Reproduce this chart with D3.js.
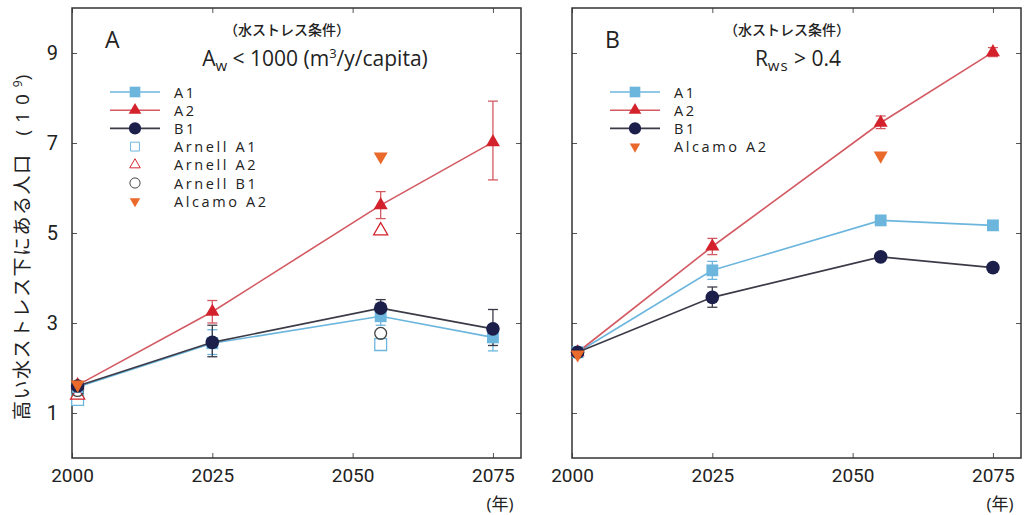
<!DOCTYPE html>
<html>
<head>
<meta charset="utf-8">
<script src="https://cdn.jsdelivr.net/npm/d3@7"></script>
<style>
  body { margin: 0; background: #fff; }
  svg text { font-family: "Open Sans", "Noto Sans", "Noto Sans CJK JP", sans-serif; fill: #222; }
  .tick text { font-family: "Liberation Sans Narrow", "Roboto", sans-serif; font-size: 19px; }
</style>
</head>
<body>
<div id="chart"></div>
<script>
// ── data ──────────────────────────────────────────────────────────
const years = [2001, 2025, 2055, 2075]
const xTicks = [2000, 2025, 2050, 2075]
const yTicks = [1, 3, 5, 7, 9]

// panel A : Aw < 1000
const aA1 = [1.58, 2.55, 3.15, 2.68]
const aA1Lo = [null, 2.3, 2.95, 2.38]
const aA1Hi = [null, 2.85, 3.4, 2.95]
const aA2 = [1.62, 3.25, 5.62, 7.02]
const aA2Lo = [null, 3.0, 5.32, 6.18]
const aA2Hi = [null, 3.5, 5.92, 7.93]
const aB1 = [1.6, 2.57, 3.33, 2.87]
const aB1Lo = [null, 2.25, 3.1, 2.5]
const aB1Hi = [null, 2.95, 3.52, 3.3]
const refYears = [2001, 2055]
const arnellA1 = [1.3, 2.52]
const arnellA2 = [1.4, 5.05]
const arnellB1 = [1.5, 2.77]
const alcamoA = [1.63, 6.7]

// panel B : Rws > 0.4
const bA1 = [2.35, 4.17, 5.28, 5.17]
const bA1Lo = [null, 3.97, null, null]
const bA1Hi = [null, 4.37, null, null]
const bA2 = [2.35, 4.7, 7.45, 9.02]
const bA2Lo = [null, 4.52, 7.32, 8.92]
const bA2Hi = [null, 4.88, 7.6, 9.12]
const bB1 = [2.35, 3.57, 4.47, 4.23]
const bB1Lo = [null, 3.35, 4.4, 4.14]
const bB1Hi = [null, 3.8, 4.55, 4.32]
const alcamoB = [2.3, 6.72]

const C = {
  A1: '#6cb6de', A2: '#d3222b', A2line: '#d35a63', B1: '#1d1f4b', B1line: '#3b3b48',
  alcamo: '#ea6a2b', B1open: '#444'
}

const W = 449, H = 450, TOP = 8
const svg = d3.select('#chart').append('svg').attr('width', 1024).attr('height', 515)

const x = d3.scaleLinear().domain([2000, 2080]).range([0, W])
const y = d3.scaleLinear().domain([0, 10]).range([H, 0])

const sym = (type, size) => d3.symbol().type(type).size(size)()
const SQ = sym(d3.symbolSquare, 140), TRI = sym(d3.symbolTriangle, 85), CIR = sym(d3.symbolCircle, 145)

function series(g, vals, lo, hi, lineColor) {
  const pts = years.map((yr, i) => ({ yr, v: vals[i], lo: lo[i], hi: hi[i] }))
  g.append('path').datum(pts)
    .attr('d', d3.line().x(d => x(d.yr)).y(d => y(d.v)))
    .attr('fill', 'none').attr('stroke', lineColor).attr('stroke-width', 1.6)
  const eb = pts.filter(d => d.lo != null)
  const e = g.append('g').attr('stroke', lineColor).attr('stroke-width', 1.3)
  e.selectAll('.v').data(eb).join('line')
    .attr('x1', d => x(d.yr)).attr('x2', d => x(d.yr)).attr('y1', d => y(d.lo)).attr('y2', d => y(d.hi))
  e.selectAll('.lo').data(eb).join('line').attr('class', 'lo')
    .attr('x1', d => x(d.yr) - 5).attr('x2', d => x(d.yr) + 5).attr('y1', d => y(d.lo)).attr('y2', d => y(d.lo))
  e.selectAll('.hi').data(eb).join('line').attr('class', 'hi')
    .attr('x1', d => x(d.yr) - 5).attr('x2', d => x(d.yr) + 5).attr('y1', d => y(d.hi)).attr('y2', d => y(d.hi))
  return pts
}

function markers(g, pts, shape, fill, stroke, rot = 0) {
  g.selectAll(null).data(pts).join('path')
    .attr('d', shape)
    .attr('transform', d => `translate(${x(d.yr)},${y(d.v)}) rotate(${rot})`)
    .attr('fill', fill).attr('stroke', stroke).attr('stroke-width', 1.3)
}

function refPts(vals) { return refYears.map((yr, i) => ({ yr, v: vals[i] })) }

function panel(left, label, titleFn, showY, data, legend) {
  const g = svg.append('g').attr('transform', `translate(${left},${TOP})`)

  // axes (ticks inward on all four sides)
  const bx = g.append('g').attr('transform', `translate(0,${H})`)
    .call(d3.axisBottom(x).tickValues(xTicks).tickSize(-5).tickPadding(11).tickFormat(d3.format('d')))
  g.append('g').call(d3.axisTop(x).tickValues(xTicks).tickSize(-5).tickFormat(''))
  const ly = g.append('g').call(d3.axisLeft(y).tickValues(yTicks).tickSize(-5).tickPadding(14)
    .tickFormat(showY ? d3.format('d') : ''))
  g.append('g').attr('transform', `translate(${W},0)`)
    .call(d3.axisRight(y).tickValues(yTicks).tickSize(-5).tickFormat(''))
  g.selectAll('.domain').remove()
  g.selectAll('.tick line').attr('stroke', '#555')
  bx.selectAll('.tick text').attr('fill', '#222')
  ly.selectAll('.tick text').attr('fill', '#222').style('font-size', '20px')
  g.append('rect').attr('width', W).attr('height', H)
    .attr('fill', 'none').attr('stroke', '#333').attr('stroke-width', 1.5)

  g.append('text').attr('x', W - 21).attr('y', 502).attr('text-anchor', 'middle')
    .style('font-size', '17px').text('(年)')

  // panel letter + title
  g.append('text').attr('x', 33).attr('y', 40).style('font-size', '23px').text(label)
  g.append('text').attr('x', 215).attr('y', 27).attr('text-anchor', 'middle')
    .style('font-size', '14px').style('font-weight', 500).text('（水ストレス条件）')
  titleFn(g.append('text').attr('y', 58).attr('text-anchor', 'middle').style('font-size', '21px'))

  data(g)

  // legend
  const lg = g.append('g').attr('transform', 'translate(38,84)')
  legend.forEach((d, i) => {
    const row = lg.append('g').attr('transform', `translate(0,${i * 18.2})`)
    if (d.line) row.append('line').attr('x1', 0).attr('x2', 50).attr('stroke', d.line).attr('stroke-width', 1.6)
    row.append('path').attr('d', d.shape)
      .attr('transform', `translate(25,0) rotate(${d.rot || 0}) scale(${d.line ? 0.9 : 0.75})`)
      .attr('fill', d.fill).attr('stroke', d.stroke).attr('stroke-width', 1.3)
    row.append('text').attr('x', 64).attr('y', 5.5).style('font-size', '14.5px')
      .style('font-weight', 500).style('letter-spacing', '2.6px').text(d.name)
  })
  return g
}

// ── panel A ──────────────────────────────────────────────────────
panel(72, 'A', t => {
  t.attr('x', 243)
  t.append('tspan').text('A')
  t.append('tspan').attr('dy', 5).style('font-size', '15px').text('w')
  t.append('tspan').attr('dy', -5).text(' < 1000 (m')
  t.append('tspan').attr('dy', -8).style('font-size', '13px').text('3')
  t.append('tspan').attr('dy', 8).text('/y/capita)')
}, true, g => {
  const p1 = series(g, aA1, aA1Lo, aA1Hi, C.A1)
  const p2 = series(g, aA2, aA2Lo, aA2Hi, C.A2line)
  const p3 = series(g, aB1, aB1Lo, aB1Hi, C.B1line)
  markers(g, refPts(arnellA1), SQ, '#fff', C.A1)
  markers(g, refPts(arnellA2), TRI, '#fff', C.A2)
  markers(g, refPts(arnellB1), sym(d3.symbolCircle, 110), 'none', C.B1open)
  markers(g, p1, SQ, C.A1, 'none')
  markers(g, p2, TRI, C.A2, 'none')
  markers(g, p3, CIR, C.B1, 'none')
  markers(g, refPts(alcamoA), TRI, C.alcamo, 'none', 180)
}, [
  { name: 'A1', line: C.A1, shape: SQ, fill: C.A1, stroke: 'none' },
  { name: 'A2', line: C.A2line, shape: TRI, fill: C.A2, stroke: 'none' },
  { name: 'B1', line: C.B1line, shape: CIR, fill: C.B1, stroke: 'none' },
  { name: 'Arnell A1', shape: SQ, fill: '#fff', stroke: C.A1 },
  { name: 'Arnell A2', shape: TRI, fill: '#fff', stroke: C.A2 },
  { name: 'Arnell B1', shape: CIR, fill: 'none', stroke: C.B1open },
  { name: 'Alcamo A2', shape: TRI, fill: C.alcamo, stroke: 'none', rot: 180 }
])

// ── panel B ──────────────────────────────────────────────────────
panel(572, 'B', t => {
  t.attr('x', 226)
  t.append('tspan').text('R')
  t.append('tspan').attr('dy', 5).style('font-size', '15px').style('letter-spacing', '1px').text('ws')
  t.append('tspan').attr('dy', -5).text(' > 0.4')
}, false, g => {
  const p1 = series(g, bA1, bA1Lo, bA1Hi, C.A1)
  const p2 = series(g, bA2, bA2Lo, bA2Hi, C.A2line)
  const p3 = series(g, bB1, bB1Lo, bB1Hi, C.B1line)
  markers(g, p1, SQ, C.A1, 'none')
  markers(g, p2, TRI, C.A2, 'none')
  markers(g, p3, CIR, C.B1, 'none')
  markers(g, refPts(alcamoB), TRI, C.alcamo, 'none', 180)
}, [
  { name: 'A1', line: C.A1, shape: SQ, fill: C.A1, stroke: 'none' },
  { name: 'A2', line: C.A2line, shape: TRI, fill: C.A2, stroke: 'none' },
  { name: 'B1', line: C.B1line, shape: CIR, fill: C.B1, stroke: 'none' },
  { name: 'Alcamo A2', shape: TRI, fill: C.alcamo, stroke: 'none', rot: 180 }
])

// ── y-axis title ─────────────────────────────────────────────────
const yt = svg.append('text').attr('transform', 'translate(29,420) rotate(-90)')
  .style('font-size', '19px')
yt.append('tspan').style('letter-spacing', '1.5px').text('高い水ストレス下にある人口')
yt.append('tspan').attr('dx', 18).style('letter-spacing', '7px').text('(10')
yt.append('tspan').attr('dy', -7).style('font-size', '12px').text('9')
yt.append('tspan').attr('dy', 7).text(')')
</script>
</body>
</html>
